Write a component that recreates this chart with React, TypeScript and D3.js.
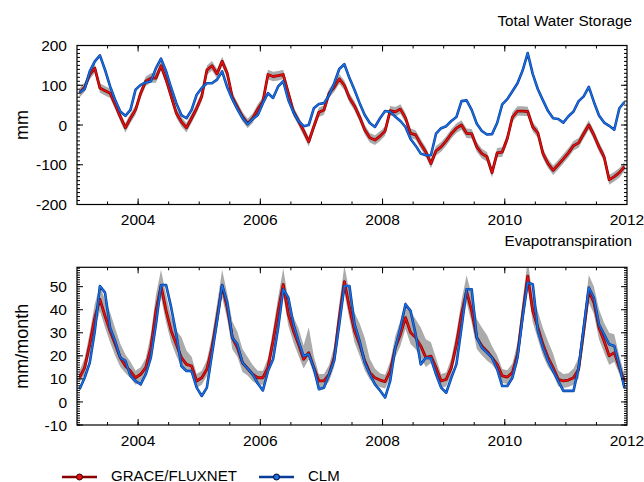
import React from 'react';
import * as d3 from 'd3';

// ---- Data (monthly, Jan 2003 .. Dec 2011) ----
const START_YEAR = 2003;

// Total Water Storage (mm)
const twsGrace = [
  81, 95, 127, 143, 93, 86, 80, 51, 21, -7, 17, 38,
  80, 110, 118, 118, 149, 114, 72, 30, 8, -7, 17, 42,
  72, 138, 149, 129, 160, 130, 70, 45, 21, 4, 17, 40,
  59, 127, 122, 124, 127, 80, 34, 10, -15, -42, -4, 32,
  38, 80, 95, 116, 100, 68, 48, 20, -12, -32, -38, -28,
  -15, 36, 33, 40, 18, -21, -25, -48, -68, -97, -65, -55,
  -40, -22, -8, 0, -21, -22, -55, -72, -80, -120, -70, -68,
  -34, 20, 35, 35, 34, -5, -20, -72, -97, -114, -100, -85,
  -70, -52, -45, -22, 0, -25, -55, -80, -138, -130, -120, -105,
];
const twsClm = [
  82, 90, 135, 160, 175, 139, 97, 63, 34, 23, 38, 89,
  101, 107, 110, 143, 167, 135, 93, 55, 25, 17, 38, 76,
  93, 105, 105, 114, 135, 95, 65, 40, 18, 2, 15, 25,
  55, 80, 68, 97, 110, 63, 32, 10, -3, 0, 42, 53,
  55, 75, 105, 141, 153, 118, 88, 55, 25, 5, -5, 17,
  35, 33, 21, 10, -5, -35, -52, -72, -76, -76, -22, -8,
  -3, 10, 20, 60, 62, 38, 3, -15, -24, -23, 5, 52,
  65, 85, 105, 137, 181, 128, 90, 62, 35, 17, 15, 6,
  22, 34, 60, 72, 96, 58, 24, 6, -2, -12, 42, 58,
];
const TWS_UNCERTAINTY = 12; // half-width of grey band (mm)

// Evapotranspiration (mm/month)
const etFluxnet = [
  10.5, 14.9, 25, 36.6, 44.5, 37.3, 30.8, 25, 19.2, 15.6, 13.4, 10.5,
  12, 14.9, 23.5, 39.5, 50.3, 39.5, 30.8, 25, 19.2, 16.3, 15.6, 9.1,
  10.5, 14.2, 23.5, 36.6, 50.3, 40.9, 27.9, 23.5, 17, 14.5, 12, 10.5,
  10.5, 15, 26.4, 39.5, 51, 38, 30.8, 25, 18.5, 21.4, 14.9, 9.1,
  9.1, 12, 19.2, 36.6, 52.2, 40.9, 30.8, 25, 17.8, 12.7, 10.5, 9.5,
  8.8, 13.4, 23.5, 29.3, 36.6, 30.1, 27.9, 24.3, 19.2, 19.9, 14.9, 9.1,
  9.8, 14.9, 25, 38, 48, 39.5, 28, 24.3, 22, 19.2, 16.3, 11.3,
  10.8, 12.7, 20.7, 38, 54.6, 39.5, 32.2, 25, 19.2, 14.9, 9.8, 9.1,
  9.5, 10.5, 14.2, 30.8, 48.1, 43.1, 32.2, 26.4, 20, 21.4, 14.9, 9,
];
const etClm = [
  5.5, 10.5, 17, 30.8, 50.3, 47.4, 32.2, 26.4, 19.2, 17.8, 11.3, 9.1,
  7.6, 12, 19.2, 33.7, 50.7, 50.7, 40.9, 29.3, 15.6, 13.4, 13.4, 6.2,
  2.6, 6.2, 20.7, 35.1, 50.7, 43.1, 27.9, 25, 17, 14.5, 12, 8,
  5, 13.4, 18.5, 32.2, 48.9, 45.2, 33.7, 26.4, 19.9, 20.7, 14.9, 5.5,
  6.2, 12, 17.8, 33.7, 50.3, 50.3, 33.7, 26.4, 17, 12, 7.6, 5,
  1.9, 9.1, 23.5, 32.2, 42.4, 39.5, 29.3, 16.3, 19.2, 18.9, 12, 6.2,
  4, 10.5, 16.3, 32.2, 48.9, 48.9, 27.9, 23.5, 21.4, 19.2, 14.2, 6.9,
  6.9, 10.5, 19.2, 36.6, 51.7, 51, 30.8, 23.5, 17.8, 13.4, 9.1, 4.8,
  4.8, 4.8, 14.9, 32.2, 49.6, 45.2, 33.7, 29.3, 25, 24.3, 16, 6,
];
// spread of the FLUXNET ensemble above / below the mean
const etSpreadUp = [
  3, 4, 5, 6, 6, 7, 8, 7, 6, 5, 4, 3,
  3, 4, 6, 7, 7, 7, 6, 6, 9, 6, 4, 3,
  3, 4, 5, 6, 7, 6, 7, 7, 6, 5, 4, 3,
  3, 4, 5, 6, 7, 6, 6, 7, 6, 11, 5, 3,
  3, 4, 5, 6, 7, 7, 8, 9, 10, 6, 4, 3,
  3, 4, 5, 6, 7, 9, 8, 8, 8, 6, 4, 3,
  3, 4, 5, 6, 7, 7, 8, 8, 7, 5, 4, 3,
  3, 4, 5, 6, 7, 6, 7, 7, 7, 6, 4, 3,
  3, 4, 5, 6, 7, 7, 8, 8, 10, 8, 5, 3,
];
const etSpreadDown = [
  2, 3, 4, 5, 5, 5, 5, 5, 4, 3, 3, 3,
  3, 3, 4, 5, 5, 5, 5, 5, 4, 3, 3, 3,
  3, 3, 4, 5, 5, 5, 5, 4, 4, 3, 3, 3,
  3, 3, 4, 5, 5, 5, 5, 5, 4, 3, 3, 3,
  3, 3, 4, 5, 5, 5, 5, 5, 4, 3, 3, 3,
  3, 3, 4, 5, 5, 5, 5, 5, 4, 3, 3, 3,
  3, 3, 4, 5, 5, 5, 5, 4, 4, 3, 3, 3,
  3, 3, 4, 5, 5, 5, 5, 5, 4, 3, 3, 3,
  3, 3, 4, 5, 5, 5, 5, 5, 4, 4, 3, 3,
];

const xTickLabels = [2004, 2006, 2008, 2010, 2012];
const twsTicks = [-200, -100, 0, 100, 200];
const etTicks = [-10, 0, 10, 20, 30, 40, 50];

const FONT = '"Liberation Sans", Arial, Helvetica, sans-serif';
const RED_DARK = '#8a0000';
const RED = '#e81010';
const BLUE_DARK = '#083c96';
const BLUE = '#1a72e6';
const GREY = '#ababab';

const monthT = (i: number) => START_YEAR + (i + 0.5) / 12;

type PanelProps = {
  id: string;
  yScale: d3.ScaleLinear<number, number>;
  x: d3.ScaleLinear<number, number>;
  red: number[];
  blue: number[];
  lo: number[];
  hi: number[];
  majorY: number[];
  minorStep: number;
  title: string;
  titleY: number;
  yTitle: string;
  labelY: number;
};

function Panel(p: PanelProps) {
  const { x, yScale: y } = p;
  const [x0, x1] = x.range();
  const [yb, yt] = y.range();
  const idx = d3.range(p.red.length);
  const area = d3
    .area<number>()
    .x((i) => x(monthT(i)))
    .y0((i) => y(p.lo[i]))
    .y1((i) => y(p.hi[i]));
  const lineR = d3.line<number>().x((i) => x(monthT(i))).y((i) => y(p.red[i]));
  const lineB = d3.line<number>().x((i) => x(monthT(i))).y((i) => y(p.blue[i]));

  const [d0, d1] = y.domain();
  const minorY = d3.range(Math.ceil(d0 / p.minorStep) * p.minorStep, d1 + 1e-9, p.minorStep);
  const minorX = d3.range(2003.5, 2012, 0.5);
  const majorX = xTickLabels.filter((v) => v < 2012);

  return (
    <g>
      <defs>
        <clipPath id={p.id}>
          <rect x={x0} y={yt} width={x1 - x0} height={yb - yt} />
        </clipPath>
      </defs>
      <g clipPath={`url(#${p.id})`}>
        <path d={area(idx) || ''} fill={GREY} stroke="none" />
        <path d={lineR(idx) || ''} fill="none" stroke={RED_DARK} strokeWidth={2.8} strokeLinejoin="round" />
        <path d={lineR(idx) || ''} fill="none" stroke={RED} strokeWidth={1.4} strokeLinejoin="round" />
        <path d={lineB(idx) || ''} fill="none" stroke={BLUE_DARK} strokeWidth={2.6} strokeLinejoin="round" />
        <path d={lineB(idx) || ''} fill="none" stroke={BLUE} strokeWidth={1.3} strokeLinejoin="round" />
      </g>
      <rect x={x0} y={yt} width={x1 - x0} height={yb - yt} fill="none" stroke="#000" strokeWidth={1.2} />
      {minorY.map((v) => (
        <g key={'my' + v}>
          <line x1={x0} x2={x0 + 3} y1={y(v)} y2={y(v)} stroke="#000" strokeWidth={1} />
          <line x1={x1} x2={x1 - 3} y1={y(v)} y2={y(v)} stroke="#000" strokeWidth={1} />
        </g>
      ))}
      {p.majorY.map((v) => (
        <g key={'My' + v}>
          <line x1={x0} x2={x0 + 6} y1={y(v)} y2={y(v)} stroke="#000" strokeWidth={1} />
          <line x1={x1} x2={x1 - 6} y1={y(v)} y2={y(v)} stroke="#000" strokeWidth={1} />
          <text x={x0 - 10} y={y(v)} dy="0.36em" textAnchor="end" fontSize={15.5} fontFamily={FONT} fill="#000">
            {v}
          </text>
        </g>
      ))}
      {minorX.map((v) => (
        <g key={'mx' + v}>
          <line x1={x(v)} x2={x(v)} y1={yb} y2={yb - 3} stroke="#000" strokeWidth={1} />
          <line x1={x(v)} x2={x(v)} y1={yt} y2={yt + 3} stroke="#000" strokeWidth={1} />
        </g>
      ))}
      {majorX.map((v) => (
        <g key={'Mx' + v}>
          <line x1={x(v)} x2={x(v)} y1={yb} y2={yb - 6} stroke="#000" strokeWidth={1} />
          <line x1={x(v)} x2={x(v)} y1={yt} y2={yt + 6} stroke="#000" strokeWidth={1} />
        </g>
      ))}
      {xTickLabels.map((v) => (
        <text key={'lx' + v} x={x(v)} y={p.labelY} textAnchor="middle" fontSize={15.5} fontFamily={FONT} fill="#000">
          {v}
        </text>
      ))}
      <text x={632} y={p.titleY} textAnchor="end" fontSize={15.3} fontFamily={FONT} fill="#000">
        {p.title}
      </text>
      <text
        transform={`translate(28,${(yt + yb) / 2}) rotate(-90)`}
        textAnchor="middle"
        fontSize={18}
        fontFamily={FONT}
        fill="#000"
      >
        {p.yTitle}
      </text>
    </g>
  );
}

export default function App() {
  const x = d3.scaleLinear().domain([2003, 2012]).range([77, 627]);
  const yT = d3.scaleLinear().domain([-200, 200]).range([204.5, 45.5]);
  const yB = d3.scaleLinear().domain([-10, 58.4]).range([425, 267.3]);

  const twsLo = twsGrace.map((v) => v - TWS_UNCERTAINTY);
  const twsHi = twsGrace.map((v) => v + TWS_UNCERTAINTY);
  const etLo = etFluxnet.map((v, i) => v - etSpreadDown[i]);
  const etHi = etFluxnet.map((v, i) => v + etSpreadUp[i]);

  return (
    <svg
      width={644}
      height={482}
      style={{ position: 'absolute', left: 0, top: 0, background: '#fff' }}
    >
      <rect width={644} height={482} fill="#fff" />
      <Panel
        id="clipTop"
        x={x}
        yScale={yT}
        red={twsGrace}
        blue={twsClm}
        lo={twsLo}
        hi={twsHi}
        majorY={twsTicks}
        minorStep={10}
        title="Total Water Storage"
        titleY={25.5}
        yTitle="mm"
        labelY={224.5}
      />
      <Panel
        id="clipBot"
        x={x}
        yScale={yB}
        red={etFluxnet}
        blue={etClm}
        lo={etLo}
        hi={etHi}
        majorY={etTicks}
        minorStep={1}
        title="Evapotranspiration"
        titleY={246}
        yTitle="mm/month"
        labelY={446}
      />
      <g>
        <line x1={62} x2={97} y1={477} y2={477} stroke={RED_DARK} strokeWidth={2.6} />
        <circle cx={79.5} cy={477} r={3} fill={RED} stroke="#300" strokeWidth={1} />
        <text x={111} y={480.5} fontSize={15} fontFamily={FONT} fill="#000">GRACE/FLUXNET</text>
        <line x1={259} x2={294} y1={477} y2={477} stroke={BLUE_DARK} strokeWidth={2.6} />
        <circle cx={276.5} cy={477} r={3} fill={BLUE} stroke="#002" strokeWidth={1} />
        <text x={308} y={480.5} fontSize={15} fontFamily={FONT} fill="#000">CLM</text>
      </g>
    </svg>
  );
}
